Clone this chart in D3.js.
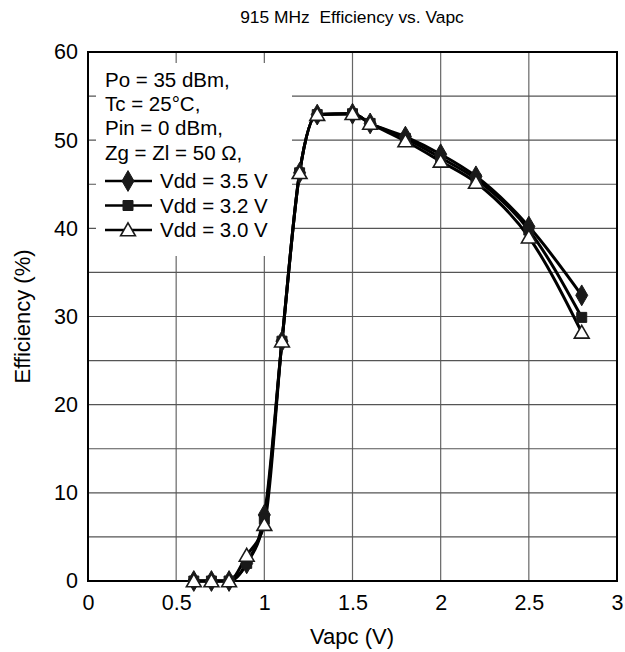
<!DOCTYPE html>
<html><head><meta charset="utf-8">
<script src="https://cdn.jsdelivr.net/npm/d3@7/dist/d3.min.js"></script>
<style>body{margin:0;background:#fff;font-family:"Liberation Sans",Arial,sans-serif;}</style>
</head><body><svg id="c" width="625" height="652"></svg>
<script>
const vapc = [0.6,0.7,0.8,0.9,1.0,1.1,1.2,1.3,1.5,1.6,1.8,2.0,2.2,2.5,2.8];
const eff35 = [0,0,0,2.0,7.5,27.2,46.3,52.9,53.0,51.9,50.4,48.4,45.9,40.2,32.4];
const eff32 = [0,0,0,2.0,7.0,27.2,46.3,52.9,53.0,51.9,50.2,48.0,45.6,39.8,29.9];
const eff30 = [0,0,0,2.9,6.4,27.2,46.3,52.9,53.0,51.9,49.9,47.6,45.2,39.0,28.2];
const seriesNames = ["Vdd = 3.5 V","Vdd = 3.2 V","Vdd = 3.0 V"];
const seriesSymbols = ["diamond","square","triangle"];
const xTicks = [0,0.5,1,1.5,2,2.5,3];
const yTicks = [0,10,20,30,40,50,60];
const conditions = ["Po = 35 dBm,","Tc = 25°C,","Pin = 0 dBm,","Zg = Zl = 50 Ω,"];
const title = "915 MHz\u00a0 Efficiency vs. Vapc";

const svg = d3.select("#c");
const L=88,R=617,T=52,B=581;
const x = d3.scaleLinear().domain([0,3]).range([L,R]);
const y = d3.scaleLinear().domain([0,60]).range([B,T]);
const FF = "'Liberation Sans',Arial,sans-serif";

const g = svg.append("g");
g.selectAll(".gx").data(d3.range(0.5,3,0.5)).join("line")
 .attr("x1",d=>x(d)).attr("x2",d=>x(d)).attr("y1",T).attr("y2",B)
 .attr("stroke","#666").attr("stroke-width",1.2);
g.selectAll(".gy").data(d3.range(5,60,5)).join("line")
 .attr("y1",d=>y(d)).attr("y2",d=>y(d)).attr("x1",L).attr("x2",R)
 .attr("stroke","#555").attr("stroke-width",1.2);

// legend background
svg.append("rect").attr("x",96).attr("y",63).attr("width",196).attr("height",193).attr("fill","#fff");

// border
svg.append("rect").attr("x",L).attr("y",T).attr("width",R-L).attr("height",B-T)
 .attr("fill","none").attr("stroke","#000").attr("stroke-width",2);

const xa = svg.append("g").attr("transform",`translate(0,${B})`)
 .call(d3.axisBottom(x).tickValues(xTicks).tickFormat(d3.format("")).tickSize(0).tickPadding(14));
const ya = svg.append("g").attr("transform",`translate(${L},0)`)
 .call(d3.axisLeft(y).tickValues(yTicks).tickSize(0).tickPadding(10));
[xa,ya].forEach(a=>{a.select(".domain").remove();
 a.selectAll("text").attr("font-family",FF).attr("font-size",21.5).attr("fill","#000");});

svg.append("text").attr("x",352).attr("y",23).attr("text-anchor","middle")
 .attr("font-size",17.4).text(title);
svg.append("text").attr("x",352).attr("y",644).attr("text-anchor","middle")
 .attr("font-size",22).text("Vapc (V)");
svg.append("text").attr("transform",`translate(30,${(T+B)/2}) rotate(-90)`).attr("text-anchor","middle")
 .attr("font-size",22).text("Efficiency (%)");

const data = [eff35,eff32,eff30];
const line = d3.line().x(d=>x(d[0])).y(d=>y(d[1])).curve(d3.curveMonotoneX);
const symType = {diamond:d3.symbolDiamond,square:d3.symbolSquare,triangle:d3.symbolTriangle};
const symSize = {diamond:125,square:100,triangle:95};
function drawSym(sel,type){
  sel.attr("d",d3.symbol().type(symType[type]).size(symSize[type]))
   .attr("fill",type==="triangle"?"#fff":"#1a1a1a")
   .attr("stroke","#1a1a1a").attr("stroke-width",type==="triangle"?1.6:1);
}
data.forEach((vals,i)=>{
  svg.append("path").datum(vapc.map((v,j)=>[v,vals[j]])).attr("d",line)
   .attr("fill","none").attr("stroke","#000").attr("stroke-width",3);
});
data.forEach((vals,i)=>{
  svg.append("g").selectAll("path").data(vapc.map((v,j)=>[v,vals[j]])).join("path")
   .attr("transform",d=>`translate(${x(d[0])},${y(d[1])+(seriesSymbols[i]==="triangle"?1.5:0)})`)
   .call(drawSym,seriesSymbols[i]);
});

const lg = svg.append("g").attr("font-size",20.5);
conditions.forEach((c,i)=>lg.append("text").attr("x",105).attr("y",87+i*24.2).text(c));
seriesNames.forEach((n,i)=>{
  const cy = 181+i*24.5;
  lg.append("line").attr("x1",105).attr("x2",152).attr("y1",cy).attr("y2",cy).attr("stroke","#000").attr("stroke-width",2.5);
  lg.append("path").attr("transform",`translate(128,${cy+(seriesSymbols[i]==="triangle"?1.5:0)})`).call(drawSym,seriesSymbols[i]);
  lg.append("text").attr("x",160).attr("y",cy+7).text(n);
});
</script></body></html>
